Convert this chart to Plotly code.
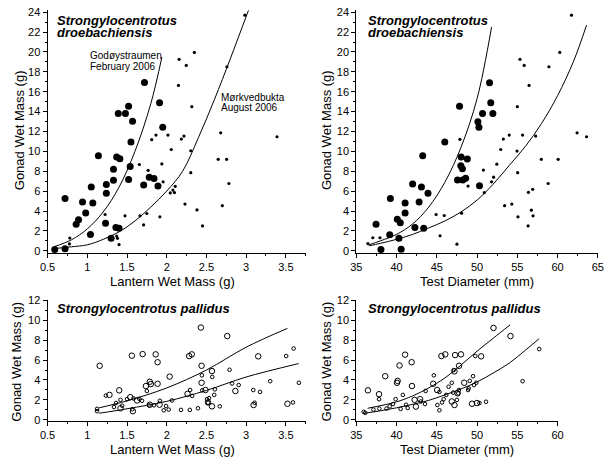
import plotly.graph_objects as go

# ---------------- DATA ----------------
# Top-left: S. droebachiensis, Lantern wet mass vs gonad wet mass
tl_feb_x = [0.59, 0.72, 0.72, 0.86, 0.89, 0.98, 0.94, 1.07, 1.04, 1.05, 1.14, 1.23, 1.24, 1.24, 1.33, 1.33, 1.30, 1.36, 1.40,
            1.37, 1.41, 1.39, 1.48, 1.52, 1.57, 1.55, 1.54, 1.52, 1.72, 1.71, 1.78, 1.84, 1.89, 1.91, 1.95]
tl_feb_y = [0.13, 0.20, 5.26, 2.66, 3.12, 3.81, 4.90, 4.80, 1.64, 6.41, 9.57, 2.76, 5.79, 6.67, 8.19, 7.10, 1.25, 2.33, 2.27,
            9.43, 9.27, 13.81, 13.81, 14.53, 13.02, 10.95, 8.48, 7.17, 16.93, 6.61, 7.40, 7.27, 6.51, 14.89, 12.43]
tl_aug_x = [0.78, 0.775, 1.225, 1.37, 1.38, 1.40, 1.475, 1.656, 1.664, 1.709, 1.75, 1.766, 1.811, 1.865, 1.914, 1.939, 1.955,
            2.016, 2.057, 2.045, 2.078, 2.098, 2.107, 2.148, 2.156, 2.184, 2.217, 2.23, 2.246, 2.303, 2.316, 2.303, 2.348,
            2.381, 2.451, 2.648, 2.68, 2.70, 2.754, 2.758, 2.783, 2.984, 3.389]
tl_aug_y = [1.28, 0.69, 3.65, 1.48, 1.25, 0.62, 3.52, 8.68, 3.52, 2.60, 3.75, 8.09, 11.18, 11.64, 3.42, 8.74, 6.94,
            11.64, 10.19, 5.82, 6.11, 5.85, 6.48, 16.63, 19.26, 11.24, 11.54, 4.70, 18.64, 10.06, 14.50, 7.86, 19.95,
            4.11, 2.50, 9.20, 11.87, 4.54, 9.20, 18.51, 6.77, 23.70, 11.47]
tl_fit_feb_x = [0.58, 0.8, 1.0, 1.2, 1.4, 1.6, 1.8, 1.94]
tl_fit_feb_y = [0.4, 1.1, 2.2, 3.9, 6.4, 10.0, 14.8, 19.5]
tl_fit_aug_x = [0.62, 0.8, 1.0, 1.2, 1.4, 1.6, 1.8, 2.0, 2.2, 2.4, 2.6, 2.8, 3.03]
tl_fit_aug_y = [0.25, 0.4, 0.6, 1.15, 1.9, 3.0, 4.4, 6.0, 8.0, 11.4, 15.2, 19.3, 24.2]

# Top-right: S. droebachiensis, test diameter vs gonad wet mass
tr_feb_x = [38.06, 40.57, 40.29, 39.15, 37.45, 42.28, 43.37, 40.09, 40.46, 41.06, 41.06, 42.80, 39.23, 43.09, 41.99, 43.90,
            43.25, 45.99, 47.82, 48.02, 48.79, 47.98, 48.18, 47.57, 48.58, 48.22, 50.30, 50.10, 50.23, 50.68, 51.96, 51.70, 51.55]
tr_feb_y = [0.13, 0.16, 1.25, 1.61, 2.66, 2.33, 2.27, 3.16, 2.83, 3.81, 4.80, 4.90, 5.26, 6.41, 6.71, 5.79,
            9.57, 10.95, 14.53, 9.43, 9.24, 8.55, 8.25, 7.13, 7.30, 7.13, 6.54, 12.98, 12.43, 13.81, 13.81, 14.89, 16.90]
tr_aug_x = [36.44, 37.05, 37.94, 45.40, 44.91, 45.92, 47.50, 48.07, 47.87, 48.88, 50.78, 50.90, 51.80, 52.05, 52.45, 52.94,
            53.26, 53.42, 53.99, 54.31, 54.96, 55.00, 55.04, 55.08, 55.33, 55.65, 55.85, 56.34, 56.38, 56.46, 56.74, 56.91,
            56.95, 57.28, 57.98, 58.83, 58.92, 60.07, 60.27, 61.73, 62.42, 63.60]
tr_aug_y = [0.72, 1.31, 1.31, 1.51, 3.65, 3.55, 0.66, 3.78, 11.21, 6.51, 8.12, 5.85, 6.94, 7.40, 8.71, 10.19,
            11.24, 4.54, 11.64, 4.70, 10.03, 14.50, 7.86, 3.42, 19.26, 11.64, 18.64, 2.50, 5.88, 16.63, 4.08, 6.18,
            3.52, 11.54, 9.20, 6.77, 18.51, 9.20, 19.95, 23.70, 11.87, 11.47]
tr_fit_feb_x = [36.5, 38, 40, 42, 44, 46, 48, 50, 51.8]
tr_fit_feb_y = [0.58, 1.0, 1.65, 2.7, 4.4, 6.9, 10.4, 15.3, 22.5]
tr_fit_aug_x = [36.6, 38, 40, 42, 44, 46, 48, 50, 52, 54, 56, 58, 60, 62, 63.6]
tr_fit_aug_y = [0.5, 0.75, 1.15, 1.65, 2.3, 3.0, 3.9, 5.1, 6.7, 8.6, 10.5, 12.8, 15.6, 19.1, 22.7]

# Bottom-left: S. pallidus, lantern wet mass vs gonad wet mass
bl_big_x = [1.156, 1.279, 1.402, 1.418, 1.541, 1.561, 1.574, 1.627, 1.697, 1.738, 1.787, 1.80, 1.787, 1.861, 1.885, 1.885,
            1.91, 2.037, 2.283, 2.316, 2.262, 2.43, 2.439, 2.439, 2.488, 2.52, 2.57, 2.57, 2.762, 2.865, 3.094, 3.152, 3.52]
bl_big_y = [5.43, 2.50, 2.96, 1.15, 2.27, 6.45, 0.86, 1.94, 6.61, 3.39, 3.82, 3.59, 1.51, 6.58, 5.79, 3.62,
            1.51, 4.34, 6.41, 6.58, 2.60, 9.28, 5.43, 3.72, 2.99, 1.74, 4.90, 1.35, 8.42, 2.89, 1.48, 6.38, 1.61]
bl_small_x = [1.123, 1.123, 1.234, 1.336, 1.361, 1.418, 1.439, 1.50, 1.566, 1.582, 1.656, 1.689, 1.75, 1.779, 1.84, 1.914,
              1.963, 1.992, 2.025, 2.066, 2.18, 2.291, 2.295, 2.32, 2.393, 2.443, 2.447, 2.508, 2.52, 2.533, 2.574, 2.598,
              2.607, 2.668, 2.791, 2.824, 2.906, 3.09, 3.107, 3.176, 3.303, 3.504, 3.598, 3.59, 3.664]
bl_small_y = [1.09, 0.86, 2.43, 1.28, 1.68, 2.00, 1.41, 2.07, 1.05, 2.14, 2.10, 1.91, 2.89, 1.45, 1.45, 1.91,
              0.95, 1.38, 1.02, 1.94, 0.99, 0.99, 2.99, 2.40, 1.15, 4.47, 2.96, 2.07, 1.71, 2.17, 4.31, 2.50,
              3.06, 1.35, 5.03, 3.65, 3.49, 2.99, 1.71, 2.80, 3.88, 6.41, 7.17, 1.74, 3.72]
bl_fit_big_x = [1.15, 1.5, 2.0, 2.5, 3.0, 3.52]
bl_fit_big_y = [1.2, 1.9, 3.2, 5.0, 7.3, 9.2]
bl_fit_small_x = [1.15, 1.5, 2.0, 2.5, 3.0, 3.66]
bl_fit_small_y = [0.65, 1.1, 1.85, 2.95, 4.3, 5.65]

# Bottom-right: S. pallidus, test diameter vs gonad wet mass
br_big_x = [36.44, 37.82, 38.59, 40.05, 40.13, 40.37, 41.06, 41.87, 41.91, 42.24, 42.40, 42.93, 44.55, 45.04, 45.57, 46.05,
            47.27, 48.00, 47.19, 47.76, 46.86, 47.19, 47.58, 48.40, 49.37, 49.98, 50.50, 52.04, 54.15]
br_big_y = [2.96, 2.57, 4.38, 3.72, 3.91, 5.46, 6.55, 5.79, 3.39, 2.00, 1.32, 2.07, 3.62, 2.99, 6.41, 6.58,
            6.51, 6.58, 4.87, 5.43, 1.84, 1.48, 2.66, 3.72, 1.61, 1.68, 6.38, 9.24, 8.42]
br_small_x = [35.91, 36.11, 37.13, 37.82, 37.86, 38.75, 39.15, 39.56, 39.88, 40.50, 40.78, 41.18, 41.38, 43.00, 43.53, 43.61,
              44.63, 45.07, 45.32, 45.65, 45.32, 45.85, 46.17, 46.46, 46.86, 47.02, 47.10, 47.50, 47.66, 47.74, 48.88, 48.96,
              49.09, 49.50, 49.62, 49.78, 49.90, 50.30, 51.11, 55.65, 57.72]
br_small_y = [0.79, 0.69, 1.02, 2.07, 1.12, 1.12, 1.35, 1.58, 2.07, 1.09, 2.50, 1.51, 1.18, 1.84, 1.58, 2.89,
              4.47, 1.48, 0.95, 1.74, 2.80, 2.07, 2.50, 3.32, 3.72, 2.73, 5.00, 2.00, 2.66, 2.99, 2.99, 3.16,
              3.91, 4.38, 3.49, 6.41, 3.72, 1.68, 1.81, 3.88, 7.11]
br_fit_big_x = [36.4, 40, 42, 44, 46, 48, 50, 52, 54.1]
br_fit_big_y = [1.15, 1.8, 2.4, 3.2, 4.2, 5.5, 6.9, 8.2, 9.55]
br_fit_small_x = [36.0, 38, 40, 42, 44, 46, 48, 50, 52, 54, 56, 57.7]
br_fit_small_y = [0.65, 0.9, 1.2, 1.55, 1.95, 2.5, 3.1, 3.8, 4.7, 5.7, 7.0, 8.15]

# ---------------- FIGURE ----------------
W, H = 610, 461
FONT = "Liberation Sans, Arial, sans-serif"

def px_x(p):
    return p / W

def px_y(p):
    return 1 - p / H

fig = go.Figure()

def add_points(x, y, xa, ya, size, filled):
    fig.add_trace(go.Scatter(
        x=x, y=y, xaxis=xa, yaxis=ya, mode="markers", cliponaxis=False,
        marker=dict(size=size, color="black",
                    symbol="circle" if filled else "circle-open",
                    line=dict(color="black", width=0 if filled else 1)),
        showlegend=False, hoverinfo="skip"))

def add_curve(x, y, xa, ya):
    fig.add_trace(go.Scatter(
        x=x, y=y, xaxis=xa, yaxis=ya, mode="lines", cliponaxis=False,
        line=dict(color="black", width=1, shape="spline", smoothing=1.0),
        showlegend=False, hoverinfo="skip"))

# top-left
add_curve(tl_fit_feb_x, tl_fit_feb_y, "x", "y")
add_curve(tl_fit_aug_x, tl_fit_aug_y, "x", "y")
add_points(tl_feb_x, tl_feb_y, "x", "y", 7, True)
add_points(tl_aug_x, tl_aug_y, "x", "y", 3.2, True)
# top-right
add_curve(tr_fit_feb_x, tr_fit_feb_y, "x2", "y2")
add_curve(tr_fit_aug_x, tr_fit_aug_y, "x2", "y2")
add_points(tr_feb_x, tr_feb_y, "x2", "y2", 7, True)
add_points(tr_aug_x, tr_aug_y, "x2", "y2", 3.2, True)
# bottom-left
add_curve(bl_fit_big_x, bl_fit_big_y, "x3", "y3")
add_curve(bl_fit_small_x, bl_fit_small_y, "x3", "y3")
add_points(bl_big_x, bl_big_y, "x3", "y3", 5.5, False)
add_points(bl_small_x, bl_small_y, "x3", "y3", 3.6, False)
# bottom-right
add_curve(br_fit_big_x, br_fit_big_y, "x4", "y4")
add_curve(br_fit_small_x, br_fit_small_y, "x4", "y4")
add_points(br_big_x, br_big_y, "x4", "y4", 5.5, False)
add_points(br_small_x, br_small_y, "x4", "y4", 3.6, False)

tickfont = dict(family=FONT, size=11, color="black")

def xaxis(domain, rng, dtick, minor_dtick, anchor):
    return dict(domain=domain, range=rng, anchor=anchor, showgrid=False, zeroline=False,
                showline=True, linecolor="black", linewidth=1, ticks="outside", ticklen=4,
                tickcolor="black", tick0=rng[0], dtick=dtick, tickfont=tickfont,
                minor=dict(dtick=minor_dtick, ticks="outside", ticklen=2, tickcolor="black", showgrid=False))

def yaxis(domain, rng, anchor):
    return dict(domain=domain, range=rng, anchor=anchor, showgrid=False, zeroline=False,
                showline=True, linecolor="black", linewidth=1, ticks="outside", ticklen=4,
                tickcolor="black", tick0=0, dtick=2, tickfont=tickfont,
                minor=dict(dtick=1, ticks="outside", ticklen=2, tickcolor="black", showgrid=False))

top_dom = [px_y(252.7), px_y(5.3)]
bot_dom = [px_y(424.5), px_y(300.4)]
left_dom = [px_x(40.5), px_x(304.7)]
right_dom = [px_x(356.5), px_x(603.7)]
right_dom_b = [px_x(356.5), px_x(562.5)]

fig.update_layout(
    width=W, height=H, margin=dict(l=0, r=0, t=0, b=0),
    paper_bgcolor="white", plot_bgcolor="white",
    font=dict(family=FONT, color="black"),
    xaxis=xaxis(left_dom, [0.5, 3.75], 0.5, 0.25, "y"),
    yaxis=yaxis(top_dom, [-0.2, 24.2], "x"),
    xaxis2=xaxis(right_dom, [35, 65], 5, 2.5, "y2"),
    yaxis2=yaxis(top_dom, [-0.2, 24.2], "x2"),
    xaxis3=xaxis(left_dom, [0.5, 3.75], 0.5, 0.25, "y3"),
    yaxis3=yaxis(bot_dom, [-0.15, 12.1], "x3"),
    xaxis4=xaxis(right_dom_b, [35, 60], 5, 2.5, "y4"),
    yaxis4=yaxis(bot_dom, [-0.15, 12.1], "x4"),
)

ann = []
def text(x, y, s, size, bold=False, italic=False, xanchor="left", angle=0):
    if bold and italic:
        s = "<b><i>" + s + "</i></b>"
    ann.append(dict(x=px_x(x), y=px_y(y), xref="paper", yref="paper", text=s, showarrow=False,
                    xanchor=xanchor, yanchor="middle", textangle=angle, borderpad=0,
                    font=dict(family=FONT, size=size, color="black")))

# species titles
text(49, 15.5, "Strongylocentrotus", 13, True, True)
text(49, 28, "droebachiensis", 13, True, True)
text(367, 15.5, "Strongylocentrotus", 13, True, True)
text(367, 28, "droebachiensis", 13, True, True)
text(49, 310, "Strongylocentrotus pallidus", 13, True, True)
text(367, 310, "Strongylocentrotus pallidus", 13, True, True)
# site labels
text(83, 52, "Godøystraumen", 10)
text(83, 63, "February 2006", 10)
text(217, 94, "Mørkvedbukta", 10)
text(217, 105, "August 2006", 10)
# axis titles
text(168, 282, "Lantern Wet Mass (g)", 13, xanchor="center")
text(480, 282, "Test Diameter (mm)", 13, xanchor="center")
text(168, 453, "Lantern Wet Mass (g)", 13, xanchor="center")
text(460, 453, "Test Diameter (mm)", 13, xanchor="center")
text(12, 128, "Gonad Wet Mass (g)", 13, xanchor="center", angle=-90)
text(326, 128, "Gonad Wet Mass (g)", 13, xanchor="center", angle=-90)
text(9, 364, "Gonad Wet Mass (g)", 13, xanchor="center", angle=-90)
text(326, 364, "Gonad Wet Mass (g)", 13, xanchor="center", angle=-90)

fig.update_layout(annotations=ann)
fig.write_html("out.html", config={"displayModeBar": False},
               post_script="document.body.style.margin='0';document.body.style.padding='0';"
                           "document.documentElement.style.overflow='hidden';")
